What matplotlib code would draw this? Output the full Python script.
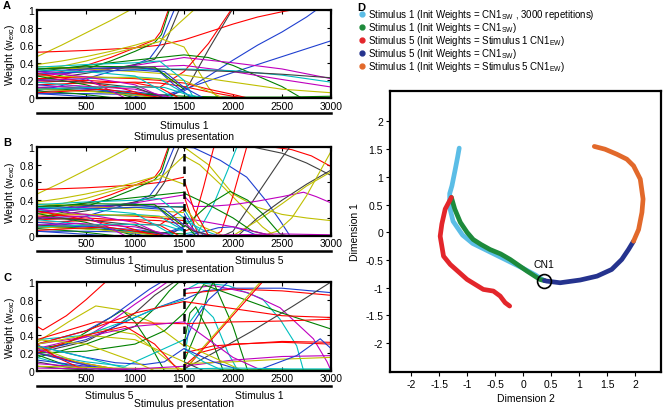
#!/usr/bin/env python3

import matplotlib
matplotlib.use('Agg')
import matplotlib.pyplot as plt
from matplotlib.patches import Rectangle
from matplotlib.lines import Line2D

plt.rcParams['font.family'] = ['Liberation Sans', 'DejaVu Sans']
plt.rcParams['mathtext.fontset'] = 'custom'
plt.rcParams['mathtext.rm'] = 'Liberation Sans'

# MATLAB-Standardfarben der Gewichtskurven
COLORS = {'b': '#1f3fd0', 'g': '#008000', 'r': '#ff0000', 'c': '#00bfbf',
          'm': '#bf00bf', 'y': '#bfbf00', 'k': '#404040'}

# Gewichtsverlauf Stimulus 1 (0..3000), linke Haelfte auch in B
STIM1_TRACES = [
    ('y', [0, 250, 500, 750, 950, 1100], [0.47, 0.60, 0.74, 0.88, 1.0, 1.1]),
    ('r', [0, 500, 1000, 1250, 1500, 1750, 2000, 2250, 2500, 2600, 2800], [0.52, 0.54, 0.57, 0.6, 0.66, 0.75, 0.84, 0.92, 0.98, 1.0, 1.05]),
    ('r', [0, 250, 500, 750, 1000, 1200, 1260, 1340, 1400], [0.25, 0.3, 0.37, 0.46, 0.57, 0.66, 0.75, 1.0, 1.1]),
    ('g', [0, 250, 500, 750, 1000, 1200, 1270, 1350, 1400], [0.2, 0.26, 0.33, 0.42, 0.53, 0.63, 0.72, 1.0, 1.1]),
    ('b', [0, 250, 500, 750, 1000, 1150, 1250, 1400, 1450], [0.08, 0.14, 0.22, 0.3, 0.38, 0.45, 0.6, 1.0, 1.1]),
    ('k', [0, 500, 1000, 1200, 1300, 1450, 1500], [0.2, 0.28, 0.38, 0.44, 0.6, 1.0, 1.1]),
    ('y', [0, 250, 500, 750, 1000, 1250, 1450, 1600, 1700], [0.32, 0.36, 0.42, 0.5, 0.57, 0.64, 0.85, 1.0, 1.1]),
    ('y', [0, 250, 500, 750, 1000, 1250, 1500, 1650, 1750, 1850], [0.38, 0.42, 0.47, 0.53, 0.6, 0.68, 0.58, 0.3, 0.12, 0.0]),
    ('k', [0, 500, 1000, 1250, 1400, 1550, 1750, 1990, 2100], [0.1, 0.08, 0.05, 0.03, 0.04, 0.15, 0.55, 1.0, 1.1]),
    ('r', [0, 500, 1000, 1250, 1500, 1750, 1980, 2100], [0.18, 0.2, 0.17, 0.12, 0.3, 0.62, 1.0, 1.1]),
    ('b', [0, 500, 1000, 1300, 1500, 1750, 2000, 2250, 2500, 2750, 2850, 2950], [0.05, 0.05, 0.04, 0.02, 0.08, 0.25, 0.43, 0.6, 0.75, 0.92, 1.0, 1.05]),
    ('b', [0, 500, 1000, 1300, 1500, 2000, 2500, 3000], [0.12, 0.1, 0.07, 0.03, 0.1, 0.29, 0.47, 0.65]),
    ('g', [0, 500, 1000, 1500, 1750, 2000, 2250, 2500, 2700, 3000], [0.3, 0.37, 0.43, 0.49, 0.46, 0.37, 0.25, 0.13, 0.0, 0.0]),
    ('m', [0, 500, 1000, 1500, 2000, 2500, 3000], [0.25, 0.3, 0.37, 0.46, 0.4, 0.33, 0.22]),
    ('m', [0, 500, 1000, 1500, 2000, 2500, 3000], [0.3, 0.32, 0.35, 0.37, 0.3, 0.21, 0.125]),
    ('c', [0, 500, 1000, 1500, 2000, 2500, 3000], [0.28, 0.3, 0.32, 0.33, 0.31, 0.26, 0.18]),
    ('k', [0, 500, 1000, 1500, 2000, 2500, 3000], [0.33, 0.34, 0.34, 0.32, 0.3, 0.27, 0.23]),
    ('y', [0, 500, 1000, 1500, 2000, 2500, 3000], [0.36, 0.33, 0.3, 0.26, 0.18, 0.1, 0.06]),
    ('g', [0, 500, 1000, 1500, 2000, 2500, 3000], [0.12, 0.08, 0.05, 0.02, 0.01, 0.01, 0.02]),
    ('r', [0, 500, 1000, 1250, 1500, 1750, 2000, 2150], [0.22, 0.24, 0.22, 0.2, 0.17, 0.1, 0.04, 0.0]),
    ('r', [0, 500, 1000, 1250, 1500, 1750, 2100], [0.15, 0.17, 0.18, 0.17, 0.13, 0.07, 0.0]),
    ('c', [0, 500, 1000, 1250, 1400, 1600], [0.2, 0.22, 0.24, 0.22, 0.12, 0.0]),
    ('b', [0, 500, 1000, 1250, 1400, 1580], [0.27, 0.3, 0.32, 0.3, 0.15, 0.0]),
    ('y', [0, 500, 1000, 1500, 1700, 1900], [0.25, 0.24, 0.23, 0.2, 0.1, 0.0]),
    ('c', [0, 500, 1000, 1250, 1500, 1600], [0.35, 0.38, 0.4, 0.42, 0.2, 0.0]),
    ('b', [0, 500, 1000, 1300, 1500, 1700], [0.3, 0.33, 0.36, 0.3, 0.12, 0.0]),
    ('m', [0, 500, 1000, 1300], [0.3, 0.24, 0.15, 0.0]),
    ('r', [0, 400, 900, 1200], [0.28, 0.2, 0.1, 0.0]),
    ('g', [0, 500, 1000], [0.25, 0.15, 0.0]),
    ('c', [0, 300, 800, 1200], [0.18, 0.15, 0.08, 0.0]),
    ('b', [0, 600, 1100], [0.15, 0.1, 0.0]),
    ('m', [0, 400, 1000, 1400], [0.12, 0.14, 0.1, 0.0]),
    ('r', [0, 500, 1000, 1250, 1450], [0.1, 0.12, 0.13, 0.12, 0.0]),
    ('y', [0, 600, 1300], [0.1, 0.07, 0.0]),
    ('g', [0, 400, 800], [0.08, 0.05, 0.0]),
    ('k', [0, 500, 1000, 1300], [0.2, 0.18, 0.12, 0.0]),
    ('b', [0, 300, 700], [0.05, 0.03, 0.0]),
    ('c', [0, 500, 1000, 1400], [0.32, 0.3, 0.25, 0.0]),
    ('m', [0, 500, 900], [0.2, 0.22, 0.0]),
    ('g', [0, 600, 1200, 1500], [0.33, 0.36, 0.35, 0.1]),
    ('r', [0, 700, 1300], [0.06, 0.1, 0.0]),
    ('c', [0, 800, 1300, 1500, 1700], [0.1, 0.13, 0.12, 0.05, 0.0]),
]

# B rechts: Stimulus 5 nach Stimulus 1
STIM5_AFTER_1 = [
    ('b', [1500, 1600, 1870, 2140, 2340, 2480, 2580], [1.0, 0.99, 0.85, 0.66, 0.39, 0.17, 0.0]),
    ('r', [1500, 2000, 2400, 2600, 2800, 3000], [1.0, 1.0, 1.0, 0.97, 0.9, 0.78]),
    ('k', [1500, 2200, 2500, 2750, 3000], [1.0, 1.0, 0.93, 0.82, 0.68]),
    ('y', [1500, 1660, 1900, 2140, 2300, 2420], [0.9, 0.8, 0.55, 0.28, 0.1, 0.0]),
    ('y', [1500, 1750, 2000, 2250, 2500, 2750, 3000], [1.0, 0.8, 0.47, 0.32, 0.24, 0.2, 0.17]),
    ('r', [1500, 1580, 1700, 1800, 1850], [0.05, 0.08, 0.55, 0.98, 1.1]),
    ('c', [1500, 1650, 1800, 1950, 2040], [0.02, 0.05, 0.35, 0.75, 1.0]),
    ('r', [1500, 1800, 1880, 2000, 2140], [0.0, 0.0, 0.05, 0.45, 1.0]),
    ('k', [1500, 1900, 2000, 2250, 2500, 2580], [0.0, 0.0, 0.05, 0.47, 0.88, 1.0]),
    ('k', [1500, 2050, 2250, 2500, 2750, 3000], [0.0, 0.0, 0.2, 0.4, 0.58, 0.74]),
    ('m', [1500, 1600, 1750, 2000, 2250, 2500, 2720, 2850, 3000], [0.45, 0.33, 0.33, 0.35, 0.39, 0.44, 0.49, 0.44, 0.37]),
    ('y', [1500, 2300, 2450, 2600, 2750, 2900, 3000], [0.0, 0.0, 0.05, 0.2, 0.45, 0.75, 0.95]),
    ('y', [1500, 2000, 2250, 2500, 2750, 3000], [0.0, 0.0, 0.17, 0.36, 0.56, 0.72]),
    ('g', [1500, 1600, 1750, 1970, 2150, 2300, 2480, 2550], [0.1, 0.2, 0.35, 0.5, 0.4, 0.25, 0.02, 0.0]),
    ('g', [1500, 1750, 2000, 2200, 2400], [0.48, 0.35, 0.2, 0.05, 0.0]),
    ('b', [1500, 1650, 1850, 2000, 2150, 2250], [0.0, 0.03, 0.09, 0.1, 0.05, 0.0]),
    ('m', [1500, 1750, 2000, 2250, 2400], [0.2, 0.15, 0.1, 0.04, 0.0]),
    ('r', [1500, 1560, 1650], [0.45, 0.25, 0.0]),
    ('c', [1500, 1600, 1700], [0.3, 0.12, 0.0]),
    ('b', [1500, 1580, 1650], [0.25, 0.1, 0.0]),
    ('g', [1500, 1550, 1620], [0.2, 0.08, 0.0]),
    ('m', [1500, 1600, 1750], [0.15, 0.06, 0.0]),
    ('y', [1500, 1650, 1900], [0.33, 0.12, 0.0]),
    ('k', [1500, 1600, 1800], [0.12, 0.05, 0.0]),
    ('c', [1500, 1700, 1850], [0.18, 0.06, 0.0]),
    ('m', [1500, 2000, 2500, 3000], [0.0, 0.01, 0.02, 0.01]),
    ('r', [1500, 1600, 1750], [0.63, 0.3, 0.0]),
]

# C links: Stimulus 5 (0..1500)
STIM5_FIRST = [
    ('r', [0, 60, 300, 500, 700, 800], [0.5, 0.46, 0.62, 0.8, 1.0, 1.1]),
    ('y', [0, 320, 600, 830, 1170, 1500], [0.32, 0.55, 0.73, 0.69, 0.55, 0.28]),
    ('y', [0, 400, 680, 1000, 1400, 1500], [0.22, 0.35, 0.47, 0.41, 0.06, 0.0]),
    ('g', [0, 300, 600, 870, 1000, 1150, 1300], [0.25, 0.3, 0.5, 0.68, 0.55, 0.3, 0.0]),
    ('b', [0, 500, 750, 1000, 1150, 1270, 1350], [0.3, 0.45, 0.6, 0.8, 0.92, 1.0, 1.1]),
    ('m', [0, 500, 750, 1000, 1200, 1330, 1400], [0.25, 0.38, 0.55, 0.75, 0.9, 1.0, 1.1]),
    ('k', [0, 500, 800, 1000, 1200, 1400, 1500], [0.2, 0.33, 0.5, 0.65, 0.85, 1.0, 1.1]),
    ('g', [0, 500, 1000, 1200, 1350, 1450, 1500], [0.15, 0.3, 0.5, 0.7, 0.9, 1.0, 1.1]),
    ('b', [0, 500, 1000, 1250, 1500], [0.22, 0.35, 0.6, 0.72, 0.82]),
    ('c', [0, 500, 1000, 1250, 1500], [0.35, 0.4, 0.6, 0.72, 0.8]),
    ('r', [0, 500, 1000, 1500], [0.3, 0.45, 0.65, 0.78]),
    ('r', [0, 300, 600, 1000, 1500], [0.35, 0.45, 0.55, 0.54, 0.53]),
    ('m', [0, 500, 1000, 1500], [0.3, 0.38, 0.5, 0.55]),
    ('g', [0, 500, 1000, 1300, 1500], [0.2, 0.22, 0.3, 0.45, 0.65]),
    ('c', [0, 500, 900, 1100, 1300, 1500], [0.2, 0.1, 0.05, 0.15, 0.25, 0.35]),
    ('b', [0, 500, 800, 1100, 1300, 1500], [0.28, 0.15, 0.09, 0.07, 0.1, 0.25]),
    ('y', [0, 500, 1000, 1300, 1500], [0.3, 0.4, 0.35, 0.2, 0.1]),
    ('r', [0, 500, 900, 1200, 1450], [0.2, 0.4, 0.5, 0.3, 0.0]),
    ('y', [0, 500, 1000, 1200], [0.35, 0.3, 0.1, 0.0]),
    ('m', [0, 300, 700], [0.25, 0.12, 0.0]),
    ('r', [0, 400, 900], [0.2, 0.1, 0.0]),
    ('g', [0, 250, 600], [0.18, 0.08, 0.0]),
    ('c', [0, 300, 800], [0.15, 0.06, 0.0]),
    ('b', [0, 500, 1000], [0.12, 0.05, 0.0]),
    ('k', [0, 300, 600], [0.1, 0.04, 0.0]),
    ('y', [0, 400, 900], [0.27, 0.1, 0.0]),
    ('m', [0, 600, 1200], [0.08, 0.03, 0.0]),
    ('r', [0, 200, 500], [0.3, 0.15, 0.0]),
    ('c', [0, 450, 1000], [0.28, 0.16, 0.0]),
    ('g', [0, 300, 700], [0.05, 0.02, 0.0]),
    ('b', [0, 350, 800], [0.2, 0.1, 0.0]),
    ('y', [0, 800, 1500], [0.05, 0.03, 0.02]),
    ('m', [0, 500, 1000, 1500], [0.03, 0.02, 0.02, 0.05]),
]

# C rechts: Stimulus 1 nach Stimulus 5
STIM1_AFTER_5 = [
    ('c', [1500, 1650, 1950, 2300, 2480, 2650, 2720], [0.9, 0.99, 0.96, 0.81, 0.58, 0.28, 0.0]),
    ('c', [1500, 1560, 1680, 1800, 1950, 2050], [0.1, 0.55, 0.73, 0.6, 0.2, 0.0]),
    ('b', [1500, 1700, 2000, 2500, 3000], [0.8, 0.9, 0.93, 0.93, 0.88]),
    ('r', [1500, 2000, 2500, 3000], [0.87, 0.92, 0.9, 0.85]),
    ('m', [1500, 1800, 2150, 2480, 2820, 2960, 3000], [0.92, 0.96, 0.88, 0.71, 0.36, 0.1, 0.0]),
    ('g', [1500, 1700, 2000, 2500, 3000], [0.65, 0.97, 0.85, 0.65, 0.47]),
    ('g', [1500, 1560, 1620, 1750, 1900], [0.3, 0.65, 0.72, 0.45, 0.0]),
    ('g', [1500, 1650, 1750, 1800, 2000, 2150], [0.1, 0.5, 0.9, 1.0, 0.5, 0.0]),
    ('r', [1500, 1700, 1900, 2100, 2300], [0.0, 0.25, 0.5, 0.75, 1.0]),
    ('y', [1500, 1700, 1900, 2100, 2280], [0.0, 0.27, 0.52, 0.78, 1.0]),
    ('k', [1500, 1800, 2200, 2600, 3000], [0.02, 0.2, 0.45, 0.72, 1.0]),
    ('b', [1500, 1600, 1750, 1950], [0.3, 0.55, 0.8, 1.0]),
    ('r', [1500, 2000, 2500, 3000], [0.53, 0.55, 0.56, 0.58]),
    ('r', [1500, 2000, 2500, 3000], [0.78, 0.7, 0.62, 0.6]),
    ('r', [1500, 1650, 2000, 2500, 3000], [0.05, 0.2, 0.3, 0.32, 0.3]),
    ('r', [1500, 1800, 2500, 3000], [0.2, 0.28, 0.33, 0.32]),
    ('m', [1500, 2000, 2500, 3000], [0.05, 0.12, 0.16, 0.17]),
    ('y', [1500, 2000, 2500, 3000], [0.08, 0.1, 0.13, 0.15]),
    ('b', [1500, 2240, 2650, 2890, 3000], [0.0, 0.0, 0.17, 0.36, 0.25]),
    ('y', [1500, 1800, 2100], [0.3, 0.15, 0.0]),
    ('c', [1500, 1700, 1900], [0.25, 0.1, 0.0]),
    ('m', [1500, 1750, 2000, 2300], [0.55, 0.35, 0.15, 0.0]),
    ('k', [1500, 1600, 1700], [0.1, 0.05, 0.0]),
    ('b', [1500, 1800, 2100], [0.25, 0.1, 0.0]),
    ('g', [1500, 2000, 3000], [0.0, 0.01, 0.01]),
    ('c', [1500, 2000, 2600, 3000], [0.02, 0.03, 0.02, 0.02]),
]

# Panel D: Trajektorien im 2D-Raum
TRAJ_CYAN_X = [-1.14, -1.17, -1.21, -1.27, -1.31, -1.31, -1.25, -1.08, -0.9, -0.62, -0.3, 0.0, 0.22, 0.36]
TRAJ_CYAN_Y = [1.52, 1.35, 1.14, 0.84, 0.7, 0.45, 0.2, -0.05, -0.2, -0.34, -0.5, -0.65, -0.77, -0.86]
TRAJ_GREEN_X = [-1.28, -1.22, -1.12, -1.0, -0.89, -0.75, -0.59, -0.4, -0.23, 0.07, 0.3, 0.38]
TRAJ_GREEN_Y = [0.63, 0.42, 0.18, 0.0, -0.13, -0.22, -0.31, -0.39, -0.49, -0.7, -0.85, -0.87]
TRAJ_RED_X = [-1.28, -1.39, -1.45, -1.48, -1.42, -1.3, -1.0, -0.71, -0.53, -0.41, -0.32, -0.24]
TRAJ_RED_Y = [0.63, 0.42, 0.15, -0.07, -0.43, -0.58, -0.85, -1.03, -1.06, -1.15, -1.27, -1.33]
TRAJ_BLUE_X = [0.38, 0.42, 0.66, 1.02, 1.32, 1.58, 1.76, 1.88, 1.97]
TRAJ_BLUE_Y = [-0.87, -0.88, -0.91, -0.86, -0.79, -0.67, -0.49, -0.31, -0.16]
TRAJ_ORANGE_X = [1.97, 2.06, 2.12, 2.14, 2.09, 1.97, 1.85, 1.67, 1.46, 1.27]
TRAJ_ORANGE_Y = [-0.16, 0.05, 0.36, 0.6, 0.96, 1.2, 1.32, 1.41, 1.5, 1.55]
CN1_POINT = (0.38, -0.87)

LEGEND_LABELS = [
    'Stimulus 1 (Init Weights = CN1$_{\\rm SW}$ , 3000 repetitions)',
    'Stimulus 1 (Init Weights = CN1$_{\\rm SW}$)',
    'Stimulus 5 (Init Weights = Stimulus 1 CN1$_{\\rm EW}$)',
    'Stimulus 5 (Init Weights = CN1$_{\\rm SW}$)',
    'Stimulus 1 (Init Weights = Stimulus 5 CN1$_{\\rm EW}$)',
]
LEGEND_COLORS = ['#5bbde6', '#1d8a3b', '#e3262b', '#25338e', '#e2692b']

W, H = 669, 414


def fx(x):
    return x / W


def fy(y):
    return 1 - y / H


def draw_traces(ax, traces, x_from=None, x_to=None):
    for c, xs, ys in traces:
        line, = ax.plot(xs, ys, color=COLORS[c], lw=0.8)
        if x_from is not None:
            line.set_clip_path(Rectangle((x_from, 0), x_to - x_from, 1, transform=ax.transData))


def setup_weight_axes(ax, letter, parts, split, offs):
    ax.set_xlim(0, 3000)
    ax.set_ylim(0, 1)
    ax.set_xticks([500, 1000, 1500, 2000, 2500, 3000])
    ax.set_yticks([0, 0.2, 0.4, 0.6, 0.8, 1])
    ax.set_yticklabels(['0', '0.2', '0.4', '0.6', '0.8', '1'])
    ax.tick_params(direction='in', top=True, right=True, length=3, width=0.8, labelsize=7.5, pad=2)
    for s in ax.spines.values():
        s.set_linewidth(1.6)
    ax.set_ylabel('Weight (w$_{\\rm exc}$)', fontsize=7.5)
    ax.yaxis.set_label_coords(-20 / 294, 0.5)
    if split:
        ax.axvline(1500, color='k', lw=1.8, ls=(0, (3, 2)))
    tr = ax.get_xaxis_transform()
    h = ax.get_position().height * H
    yb = -offs[0] / h
    for (x0, x1, name) in parts:
        ax.plot([x0, x1], [yb, yb], color='k', lw=1.8, transform=tr, clip_on=False)
        ax.text((x0 + x1) / 2, -offs[1] / h, name, transform=tr, ha='center', va='center', fontsize=7.5)
    ax.text(1500, -offs[2] / h, 'Stimulus presentation', transform=tr, ha='center', va='center', fontsize=7.5)
    pos = ax.get_position()
    ax.figure.text(fx(3), pos.y1 + 5 / H, letter, fontsize=8, fontweight='bold', va='center')


def main():
    fig = plt.figure(figsize=(W / 100, H / 100), dpi=100)

    ax_a = fig.add_axes([fx(37), fy(99), 294 / W, 88 / H])
    ax_b = fig.add_axes([fx(37), fy(236.7), 294 / W, 88.7 / H])
    ax_c = fig.add_axes([fx(37), fy(371.7), 294 / W, 88.7 / H])

    draw_traces(ax_a, STIM1_TRACES)
    setup_weight_axes(ax_a, 'A', [(0, 3000, 'Stimulus 1')], False, (15, 27, 38))

    draw_traces(ax_b, STIM1_TRACES, 0, 1500)
    draw_traces(ax_b, STIM5_AFTER_1, 1500, 3000)
    setup_weight_axes(ax_b, 'B', [(0, 1470, 'Stimulus 1'), (1530, 3000, 'Stimulus 5')], True, (15, 24, 32))

    draw_traces(ax_c, STIM5_FIRST, 0, 1500)
    draw_traces(ax_c, STIM1_AFTER_5, 1500, 3000)
    setup_weight_axes(ax_c, 'C', [(0, 1470, 'Stimulus 5'), (1530, 3000, 'Stimulus 1')], True, (15, 24, 32))

    # Panel D
    ax_d = fig.add_axes([fx(390), fy(373), 271 / W, 281 / H])
    lw = 3.4
    for xs, ys, col in [(TRAJ_CYAN_X, TRAJ_CYAN_Y, LEGEND_COLORS[0]),
                        (TRAJ_GREEN_X, TRAJ_GREEN_Y, LEGEND_COLORS[1]),
                        (TRAJ_RED_X, TRAJ_RED_Y, LEGEND_COLORS[2]),
                        (TRAJ_BLUE_X, TRAJ_BLUE_Y, LEGEND_COLORS[3]),
                        (TRAJ_ORANGE_X, TRAJ_ORANGE_Y, LEGEND_COLORS[4])]:
        ax_d.plot(xs, ys, color=col, lw=lw, solid_capstyle='round', solid_joinstyle='round')
    ax_d.plot([CN1_POINT[0]], [CN1_POINT[1]], 'o', mfc='none', mec='k', ms=10, mew=1.2)
    ax_d.text(CN1_POINT[0], CN1_POINT[1] + 0.29, 'CN1', ha='center', va='center', fontsize=7.5)
    ax_d.set_xlim(-2.375, 2.46)
    ax_d.set_ylim(-2.52, 2.55)
    ticks = [-2, -1.5, -1, -0.5, 0, 0.5, 1, 1.5, 2]
    tick_labels = ['-2', '-1.5', '-1', '-0.5', '0', '0.5', '1', '1.5', '2']
    ax_d.set_xticks(ticks)
    ax_d.set_xticklabels(tick_labels)
    ax_d.set_yticks(ticks)
    ax_d.set_yticklabels(tick_labels)
    ax_d.tick_params(direction='out', length=3, width=0.8, labelsize=7.5, pad=2)
    for s in ax_d.spines.values():
        s.set_linewidth(1.6)
    ax_d.set_xlabel('Dimension 2', fontsize=7.5)
    ax_d.xaxis.set_label_coords(0.5, -21 / 281)
    ax_d.set_ylabel('Dimension 1', fontsize=7.5)
    ax_d.yaxis.set_label_coords(-30 / 271, 0.5)
    fig.text(fx(357), fy(8), 'D', fontsize=8, fontweight='bold', va='center')

    # Legende
    for i, (lab, col) in enumerate(zip(LEGEND_LABELS, LEGEND_COLORS)):
        yy = 15 + 13 * i
        fig.add_artist(Line2D([fx(362)], [fy(yy)], marker='o', ms=3.5, color=col, mec=col, transform=fig.transFigure))
        fig.text(fx(368), fy(yy), lab, fontsize=7.0, va='center')

    fig.savefig('out.png', dpi=100)


if __name__ == '__main__':
    main()
